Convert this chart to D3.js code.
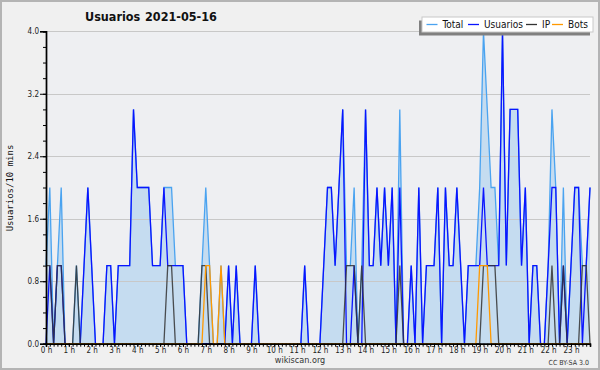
<!DOCTYPE html>
<html><head><meta charset="utf-8">
<script src="https://cdn.jsdelivr.net/npm/d3@7"></script>
<style>
body{margin:0;background:#f0f0f0}
svg{display:block}
text{font-family:"DejaVu Sans Condensed","DejaVu Sans",sans-serif}
</style>
</head><body>
<svg id="c" width="600" height="370"></svg>
<script>
// ---- data (one value per 10 minutes, 0h00 .. 23h50) ----
const total = [
1,2,0,1,2,0,0,0,1,0, 1,2,1,0,0,0,1,1,0,1, 1,1,1,3,2,2,2,2,1,1,
1,2,2,2,1,1,1,0,0,0, 0,1,2,1,0,0,1,0,1,0, 1,0,0,0,0,1,0,0,0,0,
0,0,0,0,0,0,0,0,1,0, 0,0,0,1,2,2,1,2,3,1, 1,2,0,1,3,1,1,2,1,2,
1,2,0,3,0,0,1,0,2,0, 1,1,1,2,0,2,1,1,2,1, 0,1,1,1,2,4,3,2,2,1,
4,1,3,3,3,1,2,0,1,1, 0,0,1,3,2,0,2,0,1,2, 2,1,1,2];
const usuarios = [
0,1,0,1,1,0,0,0,0,0, 1,2,1,0,0,0,1,1,0,1, 1,1,1,3,2,2,2,2,1,1,
1,2,1,1,1,1,1,0,0,0, 0,0,0,0,0,0,0,0,1,0, 1,0,0,0,0,1,0,0,0,0,
0,0,0,0,0,0,0,0,1,0, 0,0,0,1,2,2,1,2,3,0, 0,1,0,0,3,1,1,2,1,2,
1,2,0,2,0,0,1,0,2,0, 1,1,1,2,0,2,1,1,2,1, 0,1,1,1,1,2,1,1,1,1,
4,1,3,3,3,1,2,0,1,1, 0,0,1,2,2,0,1,0,1,2, 2,0,1,2];
const ip = [
1,1,0,1,1,0,0,0,1,0, 0,0,0,0,0,0,0,0,0,0, 0,0,0,0,0,0,0,0,0,0,
0,0,1,1,0,0,0,0,0,0, 0,1,1,0,0,0,0,0,0,0, 0,0,0,0,0,0,0,0,0,0,
0,0,0,0,0,0,0,0,0,0, 0,0,0,0,0,0,0,0,0,1, 1,1,0,1,0,0,0,0,0,0,
0,0,0,1,0,0,0,0,0,0, 0,0,0,0,0,0,0,0,0,0, 0,0,0,0,0,1,1,1,1,0,
0,0,0,0,0,0,0,0,0,0, 0,0,0,1,0,0,1,0,0,0, 0,1,1,0];
const bots = [
0,0,0,0,0,0,0,0,0,0, 0,0,0,0,0,0,0,0,0,0, 0,0,0,0,0,0,0,0,0,0,
0,0,0,0,0,0,0,0,0,0, 0,0,1,1,0,0,1,0,0,0, 0,0,0,0,0,0,0,0,0,0,
0,0,0,0,0,0,0,0,0,0, 0,0,0,0,0,0,0,0,0,0, 0,0,0,0,0,0,0,0,0,0,
0,0,0,0,0,0,0,0,0,0, 0,0,0,0,0,0,0,0,0,0, 0,0,0,0,1,1,1,0,0,0,
0,0,0,0,0,0,0,0,0,0, 0,0,0,0,0,0,0,0,0,0, 0,0,0,0];
const hourLabels = d3.range(24).map(h => h + " h");
const yTicks = [0, 0.8, 1.6, 2.4, 3.2, 4.0];
const seriesNames = ["Total", "Usuarios", "IP", "Bots"];
const seriesColors = ["#4aa3f0", "#0a14ff", "#333333", "#ff9900"];

// ---- layout ----
const svg = d3.select("#c");
const L = 46, R = 590, T = 31.3, B = 343.7;
const x = d3.scaleLinear().domain([0, total.length - 1]).range([L, R]);
const y = d3.scaleLinear().domain([0, 4]).range([B, T]);

svg.append("rect").attr("x",1).attr("y",1).attr("width",598).attr("height",368)
  .attr("fill","#f0f0f0").attr("stroke","#b4b4b4").attr("stroke-width",2);
svg.append("rect").attr("x",L).attr("y",T).attr("width",R-L).attr("height",B-T).attr("fill","#eeeff2");

// area
svg.append("path").datum(total)
  .attr("d", d3.area().x((d,i)=>x(i)).y0(y(0)).y1(d=>y(d)))
  .attr("fill","#c5dcf0");

// grid
svg.append("g").selectAll("line").data(yTicks.slice(1)).join("line")
  .attr("x1",L).attr("x2",R).attr("y1",d=>Math.round(y(d))+0.5).attr("y2",d=>Math.round(y(d))+0.5)
  .attr("stroke","#c8c8c8").attr("stroke-width",1);

// lines
const line = d3.line().x((d,i)=>x(i)).y(d=>y(d));
[total, usuarios, ip, bots].forEach((s,k)=>{
  svg.append("path").datum(s).attr("d", line).attr("fill","none")
    .attr("stroke", seriesColors[k]).attr("stroke-width", 1.3)
    .attr("stroke-linejoin","miter").attr("opacity", k===2 ? 0.85 : 1);
});

// y axis
const yMinor = svg.append("g").attr("transform",`translate(${L},0)`)
  .call(d3.axisLeft(y).tickValues(d3.range(0, 4.01, 0.2)).tickSize(3).tickFormat(""));
const yAx = svg.append("g").attr("transform",`translate(${L},0)`)
  .call(d3.axisLeft(y).tickValues(yTicks).tickSize(6).tickPadding(1).tickFormat(d3.format(".1f")));
[yMinor, yAx].forEach(g=>{ g.select(".domain").attr("stroke","#000").attr("stroke-width",1.4); g.selectAll(".tick line").attr("stroke","#000"); });
yAx.selectAll("text").attr("font-size",8).attr("fill","#222")
  .style("font-family",'"DejaVu Sans Condensed",sans-serif');

// x axis
const xMinor = svg.append("g").attr("transform",`translate(0,${B})`)
  .call(d3.axisBottom(x).tickValues(d3.range(0, total.length)).tickSize(3).tickFormat(""));
const xAx = svg.append("g").attr("transform",`translate(0,${B})`)
  .call(d3.axisBottom(x).tickValues(d3.range(0, 24).map(h=>h*6)).tickSize(3).tickPadding(1)
    .tickFormat(d=>hourLabels[d/6]));
[xMinor, xAx].forEach(g=>{ g.select(".domain").attr("stroke","#000").attr("stroke-width",1.4); g.selectAll(".tick line").attr("stroke","#000"); });
xAx.selectAll("text").attr("font-size",8).attr("fill","#222")
  .style("font-family",'"DejaVu Sans Condensed",sans-serif');

// title
const title = svg.append("text").attr("y",21).attr("font-size",12.5).attr("font-weight","bold").attr("fill","#111");
title.append("tspan").attr("x",85).text("Usuarios");
title.append("tspan").attr("x",145).text("2021-05-16");

// y label
svg.append("text").attr("transform","translate(13,188) rotate(-90)").attr("text-anchor","middle")
  .attr("font-size",9).style("font-family",'"DejaVu Sans Mono",monospace').attr("fill","#111").text("Usuarios/10 mins");

// footer
svg.append("text").attr("x",300).attr("y",363).attr("text-anchor","middle").attr("font-size",9).attr("fill","#333").text("wikiscan.org");
svg.append("text").attr("x",589).attr("y",365).attr("text-anchor","end").attr("font-size",7).attr("fill","#333").text("CC BY-SA 3.0");

// legend
const lg = svg.append("g");
lg.append("rect").attr("x",419).attr("y",20.5).attr("width",171).attr("height",15).attr("fill","#808080");
lg.append("rect").attr("x",422).attr("y",17).attr("width",171).attr("height",15).attr("fill","#fff").attr("stroke","#c8c8c8");
const lx = [426.5, 468, 526, 552];
const tx = [442.5, 484, 542, 568];
seriesNames.forEach((n,k)=>{
  lg.append("line").attr("x1",lx[k]).attr("x2",lx[k]+11).attr("y1",24.5).attr("y2",24.5)
    .attr("stroke",seriesColors[k]).attr("stroke-width",1.3);
  lg.append("text").attr("x",tx[k]).attr("y",28).attr("font-size",10).attr("fill","#111").text(n);
});
</script>
</body></html>
